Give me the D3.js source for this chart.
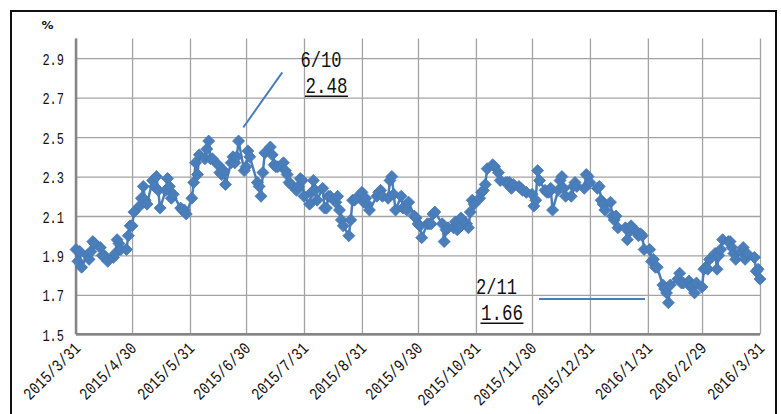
<!DOCTYPE html>
<html>
<head>
<meta charset="utf-8">
<script src="https://cdn.jsdelivr.net/npm/d3@7"></script>
<style>
  html, body { margin: 0; padding: 0; background: #fff; }
  svg { display: block; }
</style>
</head>
<body>
<svg id="chart" width="781" height="414"></svg>
<script>
// Daily 10-year yield (%), 2015/3/31 - 2016/3/31
const dates = [
  "2015/3/31",
  "2015/4/1","2015/4/2","2015/4/3","2015/4/6","2015/4/7","2015/4/8","2015/4/9","2015/4/10","2015/4/13","2015/4/14",
  "2015/4/15","2015/4/16","2015/4/17","2015/4/20","2015/4/21","2015/4/22","2015/4/23","2015/4/24","2015/4/27","2015/4/28",
  "2015/4/29","2015/4/30",
  "2015/5/1","2015/5/4","2015/5/5","2015/5/6","2015/5/7","2015/5/8","2015/5/11","2015/5/12","2015/5/13","2015/5/14",
  "2015/5/15","2015/5/18","2015/5/19","2015/5/20","2015/5/21","2015/5/22","2015/5/26","2015/5/27","2015/5/28","2015/5/29",
  "2015/6/1","2015/6/2","2015/6/3","2015/6/4","2015/6/5","2015/6/8","2015/6/9","2015/6/10","2015/6/11","2015/6/12",
  "2015/6/15","2015/6/16","2015/6/17","2015/6/18","2015/6/19","2015/6/22","2015/6/23","2015/6/24","2015/6/25","2015/6/26",
  "2015/6/29","2015/6/30",
  "2015/7/1","2015/7/2","2015/7/6","2015/7/7","2015/7/8","2015/7/9","2015/7/10","2015/7/13","2015/7/14","2015/7/15",
  "2015/7/16","2015/7/17","2015/7/20","2015/7/21","2015/7/22","2015/7/23","2015/7/24","2015/7/27","2015/7/28","2015/7/29",
  "2015/7/30","2015/7/31",
  "2015/8/3","2015/8/4","2015/8/5","2015/8/6","2015/8/7","2015/8/10","2015/8/11","2015/8/12","2015/8/13","2015/8/14",
  "2015/8/17","2015/8/18","2015/8/19","2015/8/20","2015/8/21","2015/8/24","2015/8/25","2015/8/26","2015/8/27","2015/8/28",
  "2015/8/31",
  "2015/9/1","2015/9/2","2015/9/3","2015/9/4","2015/9/8","2015/9/9","2015/9/10","2015/9/11","2015/9/14","2015/9/15",
  "2015/9/16","2015/9/17","2015/9/18","2015/9/21","2015/9/22","2015/9/23","2015/9/24","2015/9/25","2015/9/28","2015/9/29",
  "2015/9/30",
  "2015/10/1","2015/10/2","2015/10/5","2015/10/6","2015/10/7","2015/10/8","2015/10/9","2015/10/13","2015/10/14","2015/10/15",
  "2015/10/16","2015/10/19","2015/10/20","2015/10/21","2015/10/22","2015/10/23","2015/10/26","2015/10/27","2015/10/28","2015/10/29",
  "2015/10/30",
  "2015/11/2","2015/11/3","2015/11/4","2015/11/5","2015/11/6","2015/11/9","2015/11/10","2015/11/12","2015/11/13","2015/11/16",
  "2015/11/17","2015/11/18","2015/11/19","2015/11/20","2015/11/23","2015/11/24","2015/11/25","2015/11/27","2015/11/30",
  "2015/12/1","2015/12/2","2015/12/3","2015/12/4","2015/12/7","2015/12/8","2015/12/9","2015/12/10","2015/12/11","2015/12/14",
  "2015/12/15","2015/12/16","2015/12/17","2015/12/18","2015/12/21","2015/12/22","2015/12/23","2015/12/24","2015/12/28","2015/12/29",
  "2015/12/30","2015/12/31",
  "2016/1/4","2016/1/5","2016/1/6","2016/1/7","2016/1/8","2016/1/11","2016/1/12","2016/1/13","2016/1/14","2016/1/15",
  "2016/1/19","2016/1/20","2016/1/21","2016/1/22","2016/1/25","2016/1/26","2016/1/27","2016/1/28","2016/1/29",
  "2016/2/1","2016/2/2","2016/2/3","2016/2/4","2016/2/5","2016/2/8","2016/2/9","2016/2/10","2016/2/11","2016/2/12",
  "2016/2/16","2016/2/17","2016/2/18","2016/2/19","2016/2/22","2016/2/23","2016/2/24","2016/2/25","2016/2/26","2016/2/29",
  "2016/3/1","2016/3/2","2016/3/3","2016/3/4","2016/3/7","2016/3/8","2016/3/9","2016/3/10","2016/3/11","2016/3/14",
  "2016/3/15","2016/3/16","2016/3/17","2016/3/18","2016/3/21","2016/3/22","2016/3/23","2016/3/24","2016/3/28","2016/3/29",
  "2016/3/30","2016/3/31"
];

const yields = [
  1.93,
  1.87,1.92,1.84,1.90,1.88,1.92,1.97,1.96,1.94,1.90,
  1.90,1.89,1.87,1.89,1.91,1.98,1.96,1.93,1.93,2.00,
  2.05,2.05,
  2.12,2.15,2.19,2.25,2.18,2.16,2.28,2.25,2.30,2.23,
  2.14,2.23,2.29,2.25,2.19,2.21,2.14,2.13,2.13,2.11,
  2.19,2.27,2.37,2.31,2.41,2.39,2.44,2.48,2.39,2.39,
  2.36,2.32,2.31,2.33,2.26,2.37,2.40,2.37,2.40,2.48,
  2.33,2.35,
  2.43,2.40,2.27,2.25,2.20,2.32,2.42,2.45,2.41,2.36,
  2.35,2.35,2.37,2.33,2.31,2.27,2.26,2.23,2.25,2.29,
  2.28,2.20,
  2.16,2.22,2.28,2.23,2.18,2.24,2.14,2.14,2.20,2.20,
  2.17,2.20,2.13,2.08,2.05,2.00,2.08,2.18,2.18,2.19,
  2.22,
  2.17,2.19,2.16,2.13,2.20,2.22,2.23,2.20,2.19,2.28,
  2.30,2.21,2.13,2.20,2.14,2.15,2.13,2.17,2.10,2.09,
  2.06,
  2.05,1.99,2.06,2.06,2.06,2.11,2.12,2.06,1.97,2.03,
  2.04,2.04,2.07,2.03,2.04,2.09,2.06,2.04,2.12,2.18,
  2.16,
  2.19,2.22,2.23,2.26,2.34,2.36,2.35,2.32,2.28,2.27,
  2.27,2.27,2.24,2.26,2.25,2.24,2.23,2.22,2.21,
  2.15,2.18,2.33,2.28,2.23,2.22,2.22,2.24,2.13,2.23,
  2.28,2.30,2.24,2.20,2.20,2.25,2.27,2.25,2.24,2.31,
  2.30,2.27,
  2.24,2.25,2.18,2.16,2.13,2.17,2.10,2.08,2.10,2.04,
  2.04,1.98,2.02,2.05,2.02,2.00,2.01,2.00,1.93,
  1.93,1.87,1.88,1.84,1.84,1.75,1.73,1.71,1.66,1.75,
  1.78,1.81,1.76,1.76,1.77,1.74,1.75,1.71,1.76,1.74,
  1.83,1.84,1.83,1.88,1.91,1.83,1.90,1.93,1.98,1.97,
  1.97,1.94,1.91,1.88,1.92,1.94,1.88,1.91,1.89,1.82,
  1.83,1.78
];

const xTickLabels = [
  "2015/3/31","2015/4/30","2015/5/31","2015/6/30","2015/7/31","2015/8/31","2015/9/30",
  "2015/10/31","2015/11/30","2015/12/31","2016/1/31","2016/2/29","2016/3/31"
];
const yTicks = [1.5, 1.7, 1.9, 2.1, 2.3, 2.5, 2.7, 2.9];
const yUnit = "%";
// dates called out on the chart
const calloutDates = ["2015/6/10", "2016/2/11"];

// ---- layout ----
const W = 781, H = 414;
const plot = { left: 76, right: 760, top: 38.5, bottom: 334.3 };
const blue = "#4a7ebb";
const monoFont = "'Liberation Mono', 'DejaVu Sans Mono', monospace";

const parse = d3.timeParse("%Y/%m/%d");
const points = dates.map((d, i) => ({ date: parse(d), value: yields[i] }));
const tickDates = xTickLabels.map(parse);

const x = d3.scaleTime()
  .domain([tickDates[0], tickDates[tickDates.length - 1]])
  .range([plot.left, plot.right]);
const y = d3.scaleLinear()
  .domain([1.5, 3.0])
  .range([plot.bottom, plot.top]);

const svg = d3.select("#chart");
svg.append("rect").attr("width", W).attr("height", H).attr("fill", "#fff");

// outer frame
svg.append("rect")
  .attr("x", 11).attr("y", 11)
  .attr("width", 765).attr("height", 420)
  .attr("fill", "none").attr("stroke", "#111").attr("stroke-width", 2);

// horizontal grid + y labels
const yAxis = d3.axisLeft(y)
  .tickValues(yTicks)
  .tickSize(-(plot.right - plot.left))
  .tickPadding(12)
  .tickFormat(d3.format(".1f"));
const gy = svg.append("g")
  .attr("transform", `translate(${plot.left},0)`)
  .call(yAxis);
gy.select(".domain").remove();
gy.selectAll(".tick line").attr("stroke", "#a3a3a3").attr("stroke-width", 1.3);
gy.selectAll(".tick text")
  .attr("font-family", monoFont)
  .attr("font-size", 17)
  .attr("fill", "#111")
  .attr("dy", "0.36em")
  .attr("textLength", d => d3.format(".1f")(d).length * 7.2)
  .attr("lengthAdjust", "spacingAndGlyphs");

// vertical grid + rotated date labels
const xAxis = d3.axisBottom(x)
  .tickValues(tickDates)
  .tickSize(-(plot.bottom - plot.top))
  .tickFormat((d, i) => xTickLabels[i]);
const gx = svg.append("g")
  .attr("transform", `translate(0,${plot.bottom})`)
  .call(xAxis);
gx.select(".domain").remove();
gx.selectAll(".tick line").attr("stroke", "#a3a3a3").attr("stroke-width", 1.3);
gx.selectAll(".tick text")
  .attr("font-family", monoFont)
  .attr("font-size", 17)
  .attr("fill", "#111")
  .attr("text-anchor", "end")
  .attr("x", 0).attr("y", 0).attr("dy", 0)
  .attr("transform", "translate(5,15) rotate(-45)")
  .attr("textLength", (d, i) => xTickLabels[i].length * 8.1)
  .attr("lengthAdjust", "spacingAndGlyphs");

// axis lines
svg.append("line")
  .attr("x1", plot.left).attr("x2", plot.left)
  .attr("y1", plot.top).attr("y2", plot.bottom)
  .attr("stroke", "#858585").attr("stroke-width", 2.5);
svg.append("line")
  .attr("x1", plot.left).attr("x2", plot.right)
  .attr("y1", plot.bottom).attr("y2", plot.bottom)
  .attr("stroke", "#858585").attr("stroke-width", 2.5);

// unit label
svg.append("text")
  .attr("x", 41.5).attr("y", 28.5)
  .attr("font-family", "'DejaVu Sans', sans-serif")
  .attr("font-weight", "bold")
  .attr("font-size", 11)
  .attr("textLength", 12).attr("lengthAdjust", "spacingAndGlyphs")
  .attr("fill", "#111")
  .text(yUnit);

// series line
const line = d3.line().x(d => x(d.date)).y(d => y(d.value));
svg.append("path")
  .datum(points)
  .attr("d", line)
  .attr("fill", "none")
  .attr("stroke", blue)
  .attr("stroke-width", 2.5)
  .attr("stroke-linejoin", "round");

// diamond markers
const r = 6;
const diamond = `M0,${-r}L${r},0L0,${r}L${-r},0Z`;
svg.append("g").selectAll("path")
  .data(points)
  .join("path")
  .attr("d", diamond)
  .attr("transform", d => `translate(${x(d.date)},${y(d.value)})`)
  .attr("fill", blue)
  .attr("stroke", "#4577b3")
  .attr("stroke-width", 0.8);

// callouts
const fmtMD = d3.timeFormat("%-m/%-d");
const callouts = calloutDates.map(s => {
  const t = parse(s).getTime();
  const p = points.find(q => q.date.getTime() === t);
  return { label: fmtMD(p.date), value: d3.format(".2f")(p.value) };
});

function callout(c, tx, ty, lineSeg) {
  svg.append("line")
    .attr("x1", lineSeg[0]).attr("y1", lineSeg[1])
    .attr("x2", lineSeg[2]).attr("y2", lineSeg[3])
    .attr("stroke", blue).attr("stroke-width", 2);
  svg.append("text")
    .attr("x", tx).attr("y", ty)
    .attr("font-family", monoFont).attr("font-size", 22).attr("fill", "#111")
    .attr("textLength", c.label.length * 10.25).attr("lengthAdjust", "spacingAndGlyphs")
    .text(c.label);
  const vw = c.value.length * 10.5;
  svg.append("text")
    .attr("x", tx + 5).attr("y", ty + 26)
    .attr("font-family", monoFont).attr("font-size", 22).attr("fill", "#111")
    .attr("textLength", vw).attr("lengthAdjust", "spacingAndGlyphs")
    .text(c.value);
  svg.append("line")
    .attr("x1", tx + 4.5).attr("x2", tx + 5.5 + vw)
    .attr("y1", ty + 29).attr("y2", ty + 29)
    .attr("stroke", "#111").attr("stroke-width", 1.5);
}
callout(callouts[0], 300.5, 67.3, [243.3, 127.5, 282.3, 72.3]);
callout(callouts[1], 476, 294.3, [539, 299, 645, 299]);
</script>
</body>
</html>
